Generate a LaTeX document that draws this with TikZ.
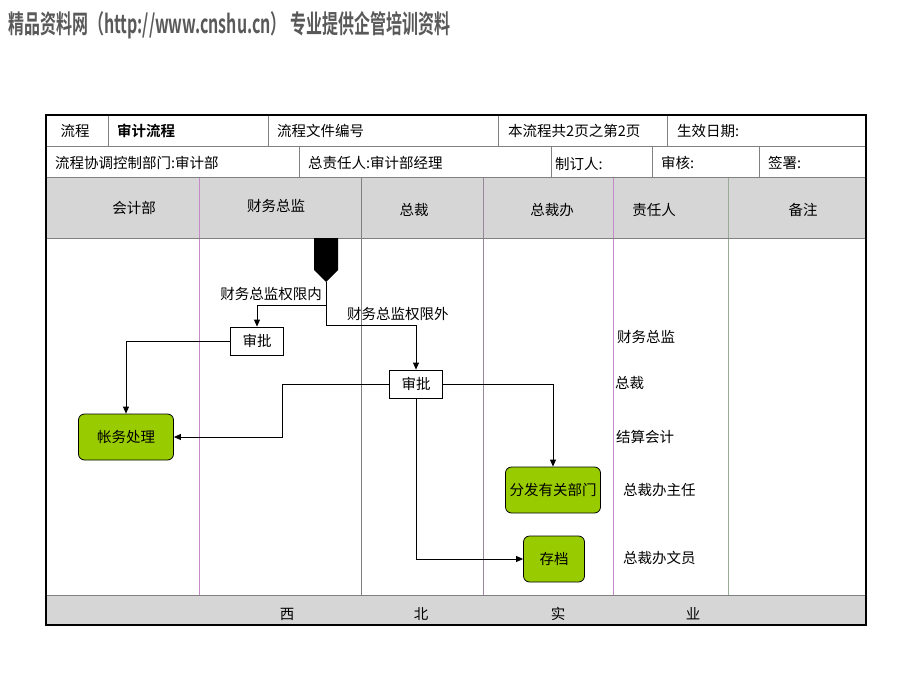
\documentclass[tikz,border=0pt]{standalone}
\usepackage{fontspec}
\setmainfont{Noto Sans CJK SC}
\newfontfamily\cjkbold{Noto Sans CJK SC Bold}
\usetikzlibrary{arrows.meta}
\definecolor{laneviolet}{HTML}{C58AC8}
\definecolor{lanegreen}{HTML}{98AC98}
\definecolor{taskgreen}{HTML}{99CC00}
\definecolor{headgray}{HTML}{D6D6D6}
\begin{document}
\begin{tikzpicture}[x=1pt,y=-1pt,
	>={Triangle[length=7pt,width=6pt]},
	txt/.style={font=\fontsize{14.5}{14.5}\selectfont,inner sep=0pt},
	lbl/.style={txt,anchor=west},
	approve node/.style={draw,thick,fill=white,minimum width=53pt,minimum height=28pt,txt},
	task node/.style={draw,thick,rounded corners=6pt,fill=taskgreen,minimum height=46pt,txt},
	flow/.style={->,thick}
]
	\useasboundingbox (0,0) rectangle (920,690);

	\def \L {46};
	\def \R {866};

	% title
	\node[anchor=west,text=black!65,inner sep=0pt] (title) at (8,25)
		{\resizebox{442pt}{22pt}{\cjkbold 精品资料网（http://www.cnshu.cn） 专业提供企管培训资料}};

	% header and footer bands
	\fill[headgray] (\L,177) rectangle (\R,238);
	\fill[headgray] (\L,595) rectangle (\R,625);

	% lanes
	\draw[laneviolet] (199,177) -- (199,595);
	\draw[gray] (361,177) -- (361,595);
	\draw[gray!60!laneviolet] (483,177) -- (483,595);
	\draw[laneviolet] (613,177) -- (613,595);
	\draw[lanegreen] (728,177) -- (728,595);

	% table rules
	\draw[gray] (\L,146) -- (\R,146);
	\draw[gray] (\L,177) -- (\R,177);
	\draw[gray] (\L,238) -- (\R,238);
	\draw[gray] (\L,595) -- (\R,595);
	\foreach \x in {108,268,498,667}
		\draw[gray] (\x,115) -- (\x,146);
	\foreach \x in {299,551,652,759}
		\draw[gray] (\x,146) -- (\x,177);
	\draw[line width=2pt] (\L,115) rectangle (\R,625);

	% first rows
	\node[txt] (flowtag) at (75,131) {流程};
	\node[lbl] (flowname) at (117,131) {\cjkbold 审计流程};
	\node[lbl] (docno) at (277,131) {流程文件编号};
	\node[lbl] (pages) at (508,131) {本流程共2页之第2页};
	\node[lbl] (date) at (677,131) {生效日期:};
	\node[lbl] (dept) at (55,163) {流程协调控制部门:审计部};
	\node[lbl] (owner) at (308,163) {总责任人:审计部经理};
	\node[lbl] (maker) at (555,164) {制订人:};
	\node[lbl] (check) at (661,163) {审核:};
	\node[lbl] (sign) at (768,163) {签署:};

	% lane titles
	\node[txt] (h1) at (134,208) {会计部};
	\node[txt] (h2) at (276,206) {财务总监};
	\node[txt] (h3) at (414,210) {总裁};
	\node[txt] (h4) at (552,210) {总裁办};
	\node[txt] (h5) at (654,210) {责任人};
	\node[txt] (h6) at (803,210) {备注};

	% footer
	\node[txt] (f1) at (287,614) {西};
	\node[txt] (f2) at (421,614) {北};
	\node[txt] (f3) at (558,614) {实};
	\node[txt] (f4) at (693,614) {业};

	% start
	\fill (314,238) -- (338,238) -- (338,270) -- (326,282) -- (314,270) -- cycle;
	\coordinate (start) at (326,282);
	\coordinate (fork) at (326,305);
	\coordinate (fork2) at (326,325);

	% steps
	\node[approve node] (ok1) at (257,341) {审批};
	\node[approve node] (ok2) at (416,384) {审批};
	\node[task node,minimum width=95pt] (book) at (126,437) {帐务处理};
	\node[task node,minimum width=95pt] (send) at (553,490) {分发有关部门};
	\node[task node,minimum width=61pt] (file) at (554,559) {存档};

	\node[txt,anchor=east] (in) at (322,294) {财务总监权限内};
	\node[txt,anchor=west] (out) at (347,314) {财务总监权限外};

	% responsible persons
	\node[lbl] (r1) at (617,337) {财务总监};
	\node[lbl] (r2) at (615,383) {总裁};
	\node[lbl] (r3) at (616,437) {结算会计};
	\node[lbl] (r4) at (623,490) {总裁办主任};
	\node[lbl] (r5) at (623,558) {总裁办文员};

	% flow
	\draw[thick] (start) -- (fork2);
	\draw[flow] (fork) -| (ok1.north);
	\draw[flow] (fork2) -| (ok2.north);
	\draw[flow] (ok1.west) -| (book.north);
	\draw[flow] (ok2.west) -- (282,384) |- (book.east);
	\draw[flow] (ok2.east) -| (send.north);
	\draw[flow] (ok2.south) |- (file.west);
\end{tikzpicture}
\end{document}
